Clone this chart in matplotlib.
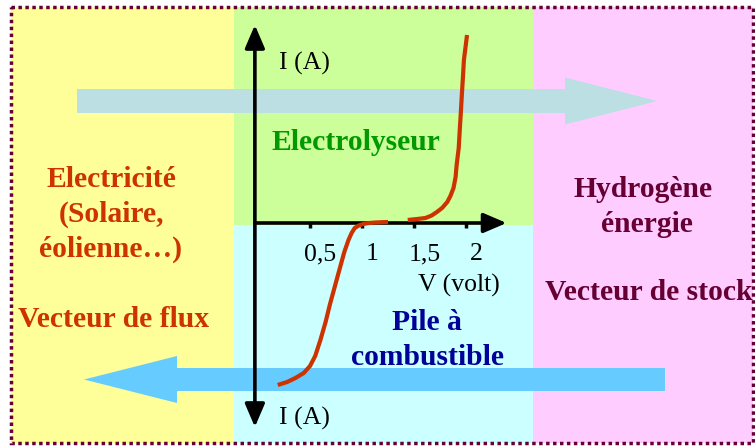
import matplotlib
matplotlib.use("Agg")
import matplotlib.pyplot as plt
from matplotlib.patches import Rectangle, FancyArrow

# ==================== Data ====================
# Fuel cell branch (V in volt, I in arbitrary units, negative = fuel cell)
pile_v = [0.19, 0.28, 0.36, 0.44, 0.50, 0.55, 0.60, 0.65, 0.69, 0.74, 0.79, 0.83, 0.87, 0.90, 0.93, 0.97, 1.01, 1.07, 1.13, 1.19, 1.25]
pile_i = [-16.2, -15.9, -15.5, -15.0, -14.3, -13.3, -11.7, -9.9, -8.2, -6.3, -4.4, -2.9, -1.7, -1.0, -0.5, -0.25, -0.1, 0.0, 0.05, 0.08, 0.1]

# Electrolyser branch
elec_v = [1.44, 1.53, 1.61, 1.67, 1.72, 1.77, 1.82, 1.85, 1.88, 1.90, 1.91, 1.93, 1.94, 1.95, 1.96, 1.97, 1.98, 2.01]
elec_i = [0.3, 0.4, 0.5, 0.75, 1.1, 1.5, 2.1, 2.7, 3.5, 4.6, 5.8, 7.5, 9.3, 11.0, 12.8, 14.5, 16.3, 18.8]

tick_values = [0.5, 1.0, 1.5, 2.0]
tick_labels = ["0,5", "1", "1,5", "2"]

# ==================== Colours ====================
YELLOW = "#FFFF99"
GREEN = "#CCFF99"
CYAN = "#CCFFFF"
PINK = "#FFCCFF"
BORDER = "#660033"
ARROW_TOP = "#BBDFE2"
ARROW_BOT = "#66CCFF"
CURVE = "#CC3300"

plt.rcParams['font.family'] = ['Liberation Serif', 'DejaVu Serif']

W, H = 755, 446
fig = plt.figure(figsize=(W / 100, H / 100), dpi=100)
fig.patch.set_facecolor("white")

# Background in pixel coordinates
ax = fig.add_axes([0, 0, 1, 1])
ax.set_xlim(0, W)
ax.set_ylim(H, 0)
ax.axis("off")

ax.add_patch(Rectangle((11, 7), 223, 436, facecolor=YELLOW, edgecolor="none", zorder=0))
ax.add_patch(Rectangle((234, 7), 299, 218, facecolor=GREEN, edgecolor="none", zorder=0))
ax.add_patch(Rectangle((234, 225), 299, 218, facecolor=CYAN, edgecolor="none", zorder=0))
ax.add_patch(Rectangle((533, 7), 220, 436, facecolor=PINK, edgecolor="none", zorder=0))
ax.add_patch(Rectangle((11, 7), 742, 436, facecolor="none", edgecolor=BORDER,
                       linewidth=2.5, linestyle=(0, (1, 1)), zorder=5))

# Flow arrows
ax.add_patch(FancyArrow(77, 101, 580, 0, width=24, head_width=47, head_length=92,
                        length_includes_head=True, facecolor=ARROW_TOP, edgecolor="none", zorder=1))
ax.add_patch(FancyArrow(665, 379.5, -581, 0, width=23, head_width=47, head_length=93,
                        length_includes_head=True, facecolor=ARROW_BOT, edgecolor="none", zorder=1))

bold = dict(fontsize=21.3, fontweight="bold", ha="center", va="baseline")
orange = "#CC3300"
ax.text(111, 187, "Electricité", color=orange, **bold)
ax.text(111, 222, "(Solaire,", color=orange, **bold)
ax.text(111, 257, "éolienne…)", color=orange, **bold)
ax.text(114, 327, "Vecteur de flux", color=orange, **bold)

purple = "#660033"
ax.text(643, 197, "Hydrogène", color=purple, **bold)
ax.text(647, 232, "énergie", color=purple, **bold)
ax.text(545, 300, "Vecteur de stock", color=purple, fontsize=21.3, fontweight="bold",
        ha="left", va="baseline", clip_on=True)

ax.text(356, 150, "Electrolyseur", color="#009900", **bold)
ax.text(427, 330, "Pile à", color="#000099", **bold)
ax.text(428, 365, "combustible", color="#000099", **bold)

# ==================== I-V characteristic ====================
# inset: V = 0 at x=258 px, 104 px per volt; I = 0 at y=223 px, 10 px per unit
iv = fig.add_axes([258 / W, 3 / H, 260 / W, 440 / H])
iv.set_xlim(0, 2.5)
iv.set_ylim(-22, 22)
iv.patch.set_alpha(0)
iv.axis("off")

arrow = dict(arrowstyle="-|>,head_length=0.7,head_width=0.3", color="black", lw=2.6,
             shrinkA=0, shrinkB=0, mutation_scale=20)
iv.annotate("", xy=(-0.03, 19.8), xytext=(-0.03, 0), arrowprops=arrow, annotation_clip=False)
iv.annotate("", xy=(-0.03, -20.4), xytext=(-0.03, 0), arrowprops=arrow, annotation_clip=False)
iv.annotate("", xy=(2.39, 0), xytext=(-0.03, 0), arrowprops=arrow, annotation_clip=False)
iv.vlines(tick_values, -0.45, 0, color="black", lw=2.5)

for v, lab in zip(tick_values, tick_labels):
    iv.text(v + 0.1, -3.7, lab, fontsize=18.5, ha="center", va="baseline", color="black")
iv.text(1.54, -6.9, "V (volt)", fontsize=18.5, ha="left", va="baseline", color="black")
iv.text(0.2, 15.3, "I (A)", fontsize=18.5, ha="left", va="baseline", color="black")
iv.text(0.2, -20.2, "I (A)", fontsize=18.5, ha="left", va="baseline", color="black")

iv.plot(pile_v, pile_i, color=CURVE, lw=3, solid_capstyle="butt", zorder=3)
iv.plot(elec_v, elec_i, color=CURVE, lw=3, solid_capstyle="butt", zorder=3)

fig.savefig("out.png", dpi=100)
